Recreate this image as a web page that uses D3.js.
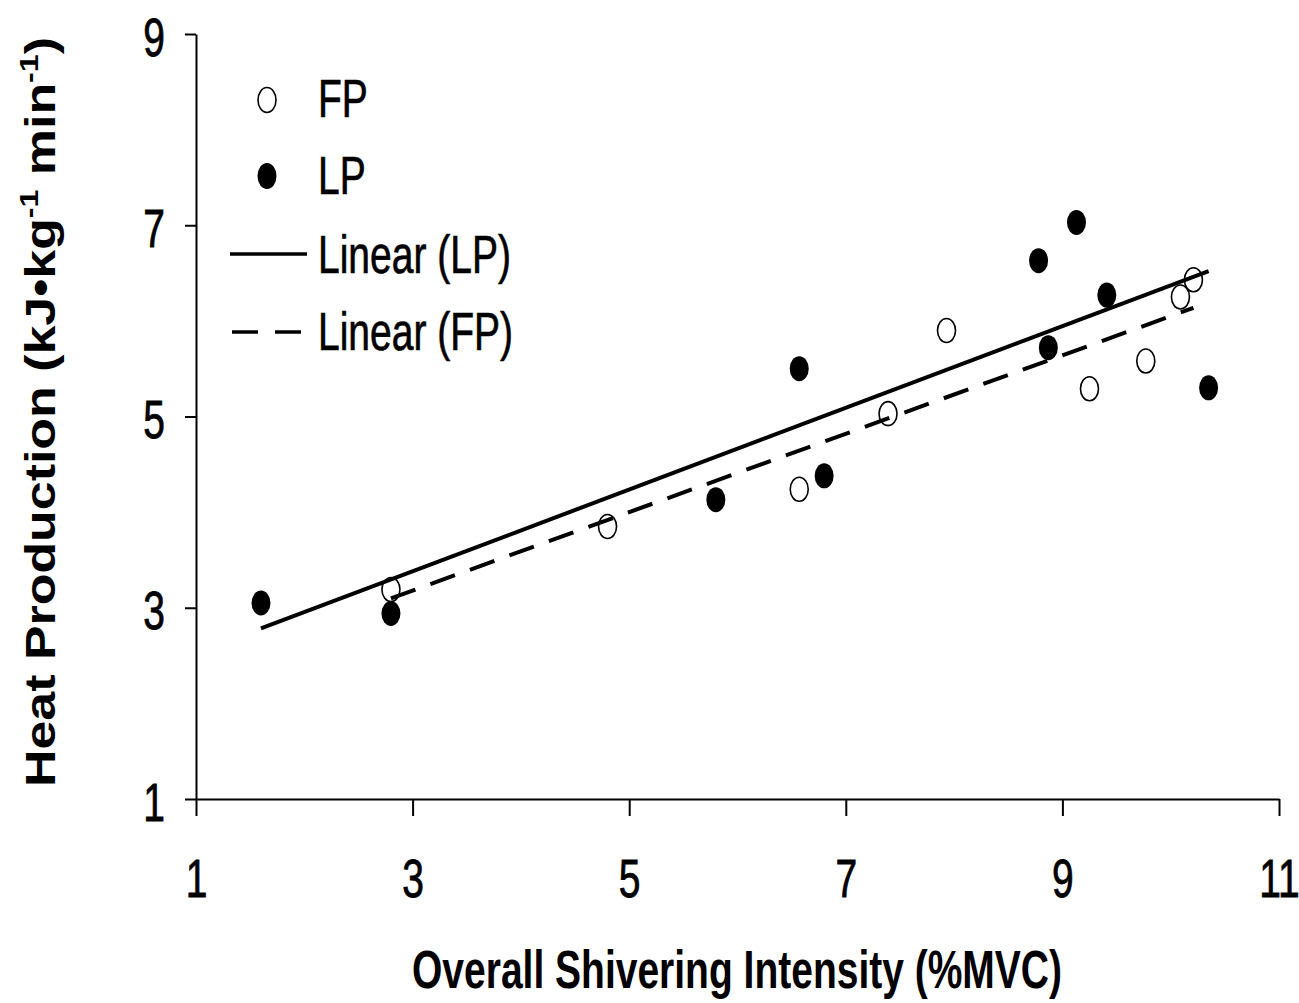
<!DOCTYPE html>
<html>
<head>
<meta charset="utf-8">
<script src="https://cdn.jsdelivr.net/npm/d3@7"></script>
<style>
  body { margin: 0; background: #fff; }
  svg { display: block; }
</style>
</head>
<body>
<svg id="chart" width="1299" height="1003"></svg>
<script>
// Free-paced (FP) trials: shivering intensity (%MVC) vs heat production
const fpX = [2.80, 4.80, 6.57, 7.39, 7.93, 9.25, 9.77, 10.09, 10.21];
const fpY = [3.19, 3.85, 4.24, 5.03, 5.90, 5.29, 5.58, 6.25, 6.43];
// Load-paced (LP) trials
const lpX = [1.60, 2.80, 5.80, 6.57, 6.80, 8.78, 8.87, 9.13, 9.41, 10.35];
const lpY = [3.05, 2.94, 4.13, 5.50, 4.38, 6.63, 5.72, 7.03, 6.27, 5.30];

const xTicks = [1, 3, 5, 7, 9, 11];
const yTicks = [1, 3, 5, 7, 9];
const legendLabels = ["FP", "LP", "Linear (LP)", "Linear (FP)"];
const xTitle = "Overall Shivering Intensity (%MVC)";

const FONT = "'Liberation Sans', Arial, Helvetica, sans-serif";
const SY = 1.36;           // vertical stretch applied to upright text
const DASH = "26,16";

const svg = d3.select("#chart");
svg.append("rect").attr("width", 1299).attr("height", 1003).attr("fill", "#fff");

const x = d3.scaleLinear().domain([1, 11]).range([196, 1279]);
const y = d3.scaleLinear().domain([1, 9]).range([799, 34]);

// ---- axes ----
const gx = svg.append("g")
  .attr("transform", "translate(0,799)")
  .call(d3.axisBottom(x).tickValues(xTicks).tickSize(17).tickSizeOuter(0).tickFormat(d3.format("d")));
const gy = svg.append("g")
  .attr("transform", "translate(196,0)")
  .call(d3.axisLeft(y).tickValues(yTicks).tickSize(11).tickSizeOuter(0).tickFormat(d3.format("d")));

[gx, gy].forEach(g => {
  g.select(".domain").attr("stroke", "#000").attr("stroke-width", 2);
  g.selectAll(".tick line").attr("stroke", "#000").attr("stroke-width", 2);
  g.selectAll(".tick text")
    .attr("fill", "#000")
    .attr("stroke", "#000").attr("stroke-width", 0.6)
    .attr("font-family", FONT)
    .attr("font-size", 39)
    .attr("dy", null)
    .attr("transform", `scale(1,${SY})`);
});
gx.selectAll(".tick text").attr("y", 98 / SY);
gy.selectAll(".tick text").attr("x", -31).attr("y", 21 / SY);

// ---- least-squares trend lines ----
function fit(xs, ys) {
  const mx = d3.mean(xs), my = d3.mean(ys);
  const sxy = d3.sum(xs, (v, i) => (v - mx) * (ys[i] - my));
  const sxx = d3.sum(xs, v => (v - mx) * (v - mx));
  const m = sxy / sxx, b = my - m * mx;
  const [x0, x1] = d3.extent(xs);
  return [[x0, m * x0 + b], [x1, m * x1 + b]];
}
const line = d3.line().x(d => x(d[0])).y(d => y(d[1]));

// ---- markers ----
const plot = svg.append("g");
plot.selectAll("ellipse.fp")
  .data(fpX.map((v, i) => [v, fpY[i]]))
  .join("ellipse").attr("class", "fp")
  .attr("cx", d => x(d[0])).attr("cy", d => y(d[1]))
  .attr("rx", 9).attr("ry", 12)
  .attr("fill", "none").attr("stroke", "#000").attr("stroke-width", 1.6);
plot.selectAll("ellipse.lp")
  .data(lpX.map((v, i) => [v, lpY[i]]))
  .join("ellipse").attr("class", "lp")
  .attr("cx", d => x(d[0])).attr("cy", d => y(d[1]))
  .attr("rx", 9.5).attr("ry", 12.5)
  .attr("fill", "#000");

plot.append("path").attr("d", line(fit(lpX, lpY)))
  .attr("fill", "none").attr("stroke", "#000").attr("stroke-width", 4);
plot.append("path").attr("d", line(fit(fpX, fpY)))
  .attr("fill", "none").attr("stroke", "#000").attr("stroke-width", 4)
  .attr("stroke-dasharray", DASH);

// ---- legend ----
const legend = svg.append("g");
legend.append("ellipse").attr("cx", 267).attr("cy", 100).attr("rx", 9).attr("ry", 12.5)
  .attr("fill", "none").attr("stroke", "#000").attr("stroke-width", 1.6);
legend.append("ellipse").attr("cx", 267).attr("cy", 176).attr("rx", 9.5).attr("ry", 13)
  .attr("fill", "#000");
legend.append("line").attr("x1", 230).attr("x2", 307).attr("y1", 254).attr("y2", 254)
  .attr("stroke", "#000").attr("stroke-width", 3.5);
legend.append("line").attr("x1", 232).attr("x2", 302).attr("y1", 332).attr("y2", 332)
  .attr("stroke", "#000").attr("stroke-width", 3.5).attr("stroke-dasharray", "26,17");

const legendBase = [117, 194, 273, 350];
legendLabels.forEach((t, i) => {
  legend.append("g")
    .attr("transform", `translate(318,${legendBase[i]}) scale(1,${SY})`)
    .append("text")
    .attr("font-family", FONT).attr("font-size", 39).attr("fill", "#000")
    .attr("stroke", "#000").attr("stroke-width", 0.5)
    .text(t);
});

// ---- axis titles ----
svg.append("g")
  .attr("transform", `translate(737,988) scale(1,${SY})`)
  .append("text")
  .attr("text-anchor", "middle")
  .attr("font-family", FONT).attr("font-size", 39).attr("font-weight", "bold")
  .attr("textLength", 650).attr("lengthAdjust", "spacingAndGlyphs")
  .attr("fill", "#000")
  .text(xTitle);

const yt = svg.append("g")
  .attr("transform", "translate(55,412) rotate(-90)")
  .append("text")
  .attr("text-anchor", "middle")
  .attr("font-family", FONT).attr("font-size", 42).attr("font-weight", "bold")
  .attr("textLength", 750).attr("lengthAdjust", "spacingAndGlyphs")
  .attr("fill", "#000");
yt.append("tspan").text("Heat Production (kJ\u2022kg");
yt.append("tspan").attr("font-size", 26).attr("dy", -17).text("-1");
yt.append("tspan").attr("dy", 17).text(" min");
yt.append("tspan").attr("font-size", 26).attr("dy", -17).text("-1");
yt.append("tspan").attr("dy", 17).text(")");
</script>
</body>
</html>
